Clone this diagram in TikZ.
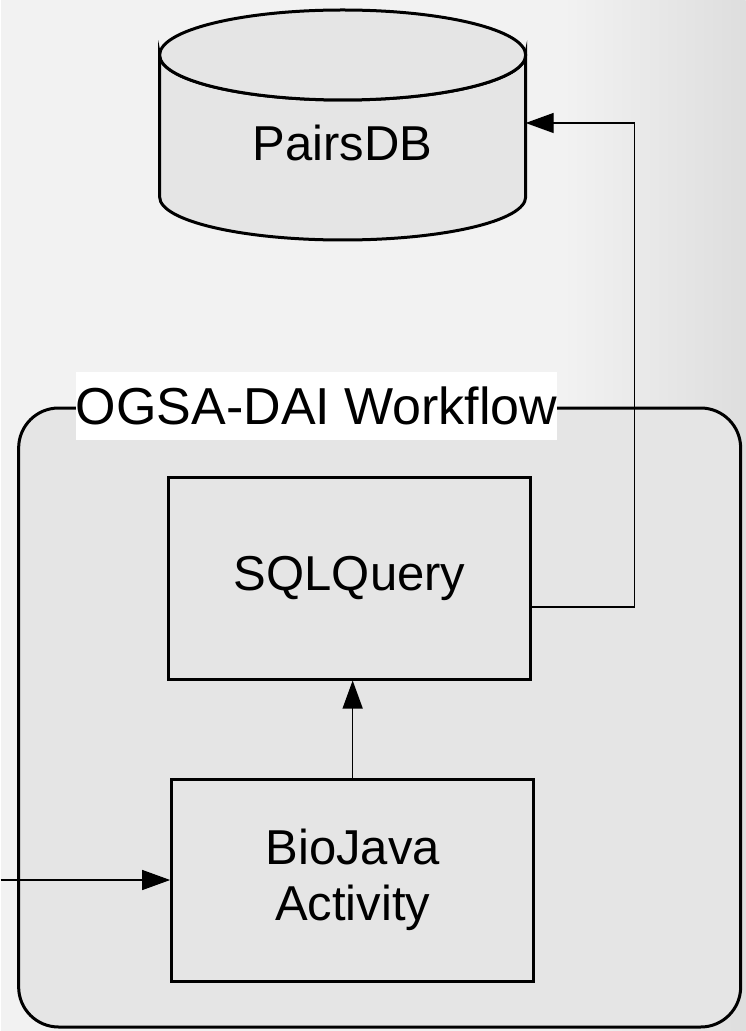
\documentclass[tikz,border=0pt]{standalone}
\usepackage{fontspec}
\setmainfont{Liberation Sans}
\usetikzlibrary{positioning,arrows.meta}

\begin{document}
\begin{tikzpicture}[
  x=0.5pt, y=-0.5pt,
  font=\fontsize{24.5}{28}\selectfont,
  block/.style={draw, line width=1.5pt, minimum width=181pt, minimum height=101pt,
                align=center, inner sep=0pt},
  store/.style={draw, line width=1.5pt, fill=black!10},
  frame/.style={draw, line width=1.5pt, fill=black!10, rounded corners=20pt},
  link/.style={-{Triangle[length=14pt,width=10pt]}, line width=0.65pt, black},
]
  % page background
  \fill[black!5] (0,0) rectangle (745,1031);
  \shade[left color=black!5, right color=black!13] (560,0) rectangle (745,1031);

  % database cylinder
  \path[store] (159,55) -- (159,197)
    arc[start angle=180, end angle=0, x radius=183, y radius=43]
    -- (525,55) arc[start angle=0, end angle=180, x radius=183, y radius=45] -- cycle;
  \path[store] (342,55) ellipse[x radius=183, y radius=45];
  \node (db) at (342,143) {PairsDB};
  \coordinate (dbin) at (525,123);

  % workflow container
  \path[frame] (18,408) rectangle (740,1027);
  \node[fill=white, inner sep=0pt, minimum width=238.5pt, minimum height=34pt,
        font=\fontsize{26}{30}\selectfont]
    (wflabel) at (316,406) {OGSA-DAI Workflow};

  \node[block] (sql) at (349,578) {SQLQuery};
  \node[block] (bio) at (352,880) {BioJava\\Activity};

  \coordinate (in) at (0,880);

  \draw[link] (in) -- (bio.west);
  \draw[link] (bio.north) -- (bio.north |- sql.south);
  \draw[link] ([yshift=-14.5pt]sql.east) -| ([xshift=54.5pt]dbin) -- (dbin);
\end{tikzpicture}
\end{document}
